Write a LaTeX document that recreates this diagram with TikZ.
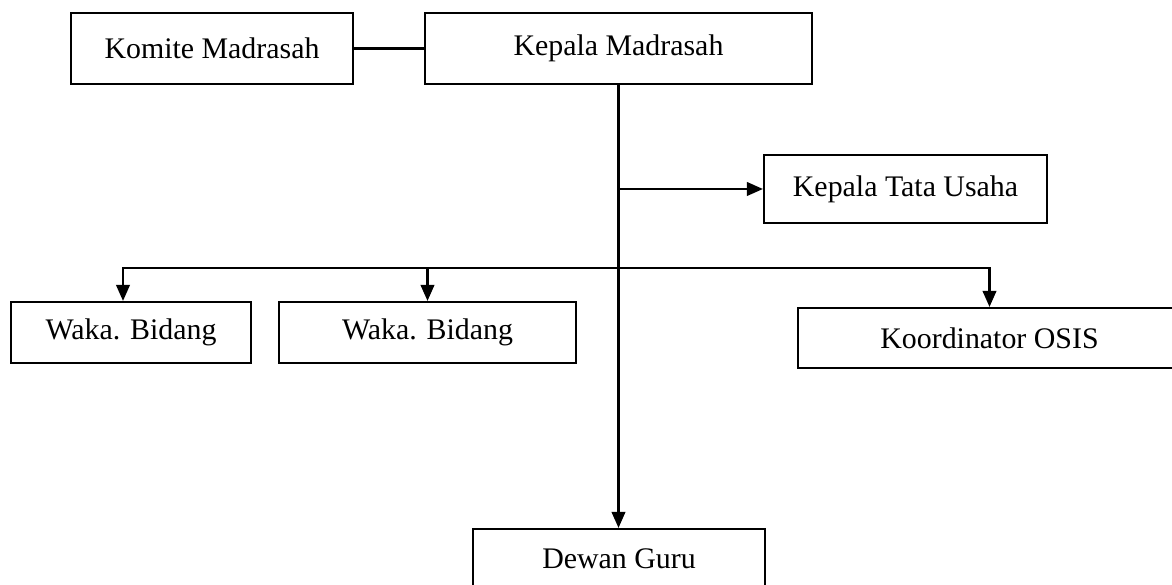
\documentclass[tikz,border=0pt]{standalone}
\usepackage{fontspec}
\setmainfont{Liberation Serif}
\usepackage{tikz}
\usetikzlibrary{arrows.meta,positioning,calc}

\begin{document}
\begin{tikzpicture}[
    box/.style={draw, line width=1.2pt, text centered, font=\fontsize{17}{20}\selectfont},
    wide/.style={box, minimum height=1.42cm},
    slim/.style={box, minimum height=1.22cm},
    link/.style={line width=1.3pt},
    >={Triangle[length=0.32cm, width=0.27cm]}
]
\useasboundingbox (0, 0) rectangle (23.44, 11.7);

% --- Top row ---
\node[wide, minimum width=5.64cm] (komite) at (4.24, 10.73) {Komite Madrasah};
\node[wide, minimum width=7.74cm] (kepala) at (12.37, 10.73) {Kepala Madrasah};

% --- Staff ---
\node[box, minimum width=5.66cm, minimum height=1.36cm] (tatausaha) at (18.11, 7.92) {Kepala Tata Usaha};
\node[slim, minimum width=4.8cm] (waka1) at (2.62, 5.05) {Waka. Bidang};
\node[slim, minimum width=5.94cm] (waka2) at (8.55, 5.05) {Waka. Bidang};
\node[box, minimum width=7.66cm, minimum height=1.2cm] (osis) at (19.79, 4.94) {Koordinator OSIS};
\node[box, minimum width=5.84cm, minimum height=1.2cm] (guru) at (12.38, 0.52) {Dewan Guru};

% Connectors
\coordinate (bus) at (kepala.south |- 0, 6.34);
\draw[link] (komite.east) -- (kepala.west);
\draw[link, ->] (kepala.south) -- (kepala.south |- guru.north);
\draw[link, ->] (kepala.south |- tatausaha.west) -- (tatausaha.west);
\draw[link, ->] (bus) -| ([xshift=-0.16cm]waka1.north);
\draw[link, ->] (bus) -| (waka2.north);
\draw[link, ->] (bus) -| (osis.north);

\end{tikzpicture}
\end{document}
